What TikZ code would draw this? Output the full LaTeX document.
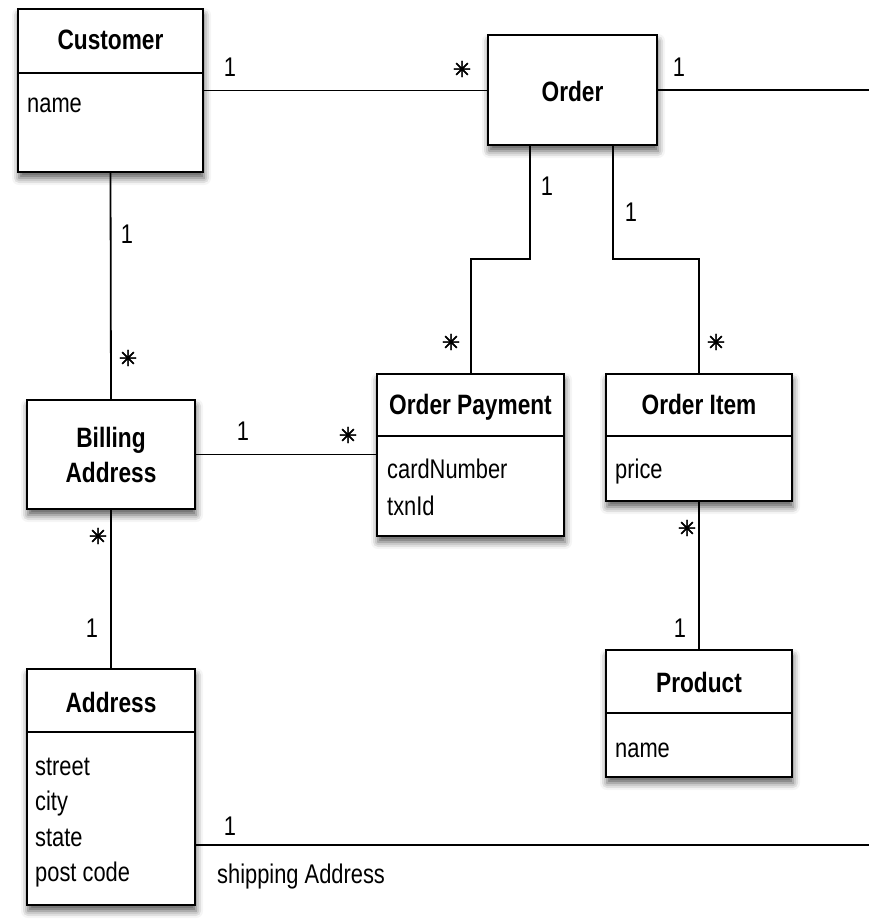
\documentclass[tikz,border=0pt]{standalone}
\usepackage{fontspec}
\setmainfont[FakeStretch=0.81]{Liberation Sans}
\newfontfamily\symfont[FakeBold=2]{DejaVu Sans}
\usetikzlibrary{fit,shadows.blur}

\tikzset{
  classbox/.style={draw, line width=1.8pt, fill=white, rectangle, inner sep=0pt,
    blur shadow={shadow xshift=1pt, shadow yshift=-6pt, shadow blur radius=7pt, shadow opacity=65}},
  divider/.style={line width=1.8pt},
  link/.style={line width=1.8pt},
  title/.style={anchor=base, inner sep=0pt, font=\fontsize{28}{32}\selectfont\bfseries},
  attr/.style={anchor=base west, inner sep=0pt, font=\fontsize{27}{32}\selectfont},
  mult/.style={anchor=base, inner sep=0pt, font=\fontsize{27}{32}\selectfont},
  many/.style={anchor=center, inner sep=0pt, font=\symfont\fontsize{22}{22}\selectfont},
}

\begin{document}
\begin{tikzpicture}[x=1pt, y=-1pt]
\useasboundingbox (0,0) rectangle (868,923);

% ---- classes ----
\node[classbox, fit={(18,9) (203,172)}] (customer) {};
\draw[divider] (18,73) -- (203,73);
\node[title] (customer-t) at (110.5,50) {Customer};
\node[attr] (customer-a1) at (27,113) {name};

\node[classbox, fit={(488,35) (657,145)}] (order) {};
\node[title] (order-t) at (572.5,102) {Order};

\node[classbox, fit={(377,374) (564,536)}] (payment) {};
\draw[divider] (377,436) -- (564,436);
\node[title] (payment-t) at (470.5,414) {Order Payment};
\node[attr] (payment-a1) at (387,478) {cardNumber};
\node[attr] (payment-a2) at (387,515) {txnId};

\node[classbox, fit={(606,374) (792,501)}] (item) {};
\draw[divider] (606,436) -- (792,436);
\node[title] (item-t) at (699,414) {Order Item};
\node[attr] (item-a1) at (615,478) {price};

\node[classbox, fit={(27,400) (195,509)}] (billing) {};
\node[title] (billing-t1) at (111,447) {Billing};
\node[title] (billing-t2) at (111,482) {Address};

\node[classbox, fit={(27,669) (195,905)}] (address) {};
\draw[divider] (27,732) -- (195,732);
\node[title] (address-t) at (111,712) {Address};
\node[attr] (address-a1) at (35,775) {street};
\node[attr] (address-a2) at (35,810) {city};
\node[attr] (address-a3) at (35,846) {state};
\node[attr] (address-a4) at (35,881) {post code};

\node[classbox, fit={(606,650) (792,777)}] (product) {};
\draw[divider] (606,713) -- (792,713);
\node[title] (product-t) at (699,692) {Product};
\node[attr] (product-a1) at (615,757) {name};

% ---- associations ----
\coordinate (opA) at (530,259);
\coordinate (opB) at (471,259);
\coordinate (oiA) at (613,259);
\coordinate (oiB) at (699,259);
\coordinate (shipN) at (869.8,90);
\coordinate (shipS) at (869.8,845);

\draw[link] (customer.east) -- (customer.east -| order.west);
\draw[link] (order.east) -- (shipN) -- (shipS) -- (shipS -| address.east);
\draw[link] (opA |- order.south) -- (opA) -- (opB) -- (opB |- payment.north);
\draw[link] (oiA |- order.south) -- (oiA) -- (oiB) -- (oiB |- item.north);
\draw[link] (customer.south) -- (billing.north);
\draw[link] (billing.east) -- (billing.east -| payment.west);
\draw[link] (billing.south) -- (address.north);
\draw[link] (item.south) -- (product.north);

% ---- multiplicities ----
\node[mult] (m-cust-o) at (230,77) {1};
\node[many] (m-ord-c) at (462,69) {✳};
\node[mult] (m-ord-s) at (679,77) {1};
\node[mult] (m-ord-p) at (547,195) {1};
\node[many] (m-pay-o) at (451,342) {✳};
\node[mult] (m-ord-i) at (631,221) {1};
\node[many] (m-item-o) at (716,342) {✳};
\node[mult] (m-cust-b) at (127,243) {1};
\node[many] (m-bill-c) at (128,358) {✳};
\node[mult] (m-bill-p) at (243,440) {1};
\node[many] (m-pay-b) at (348,435) {✳};
\node[many] (m-bill-a) at (98,536) {✳};
\node[mult] (m-addr-b) at (92,637) {1};
\node[many] (m-item-p) at (687,528) {✳};
\node[mult] (m-prod-i) at (680,637) {1};
\node[mult] (m-addr-s) at (230,835) {1};
\node[attr] (ship-label) at (217,883) {shipping Address};
\end{tikzpicture}
\end{document}
